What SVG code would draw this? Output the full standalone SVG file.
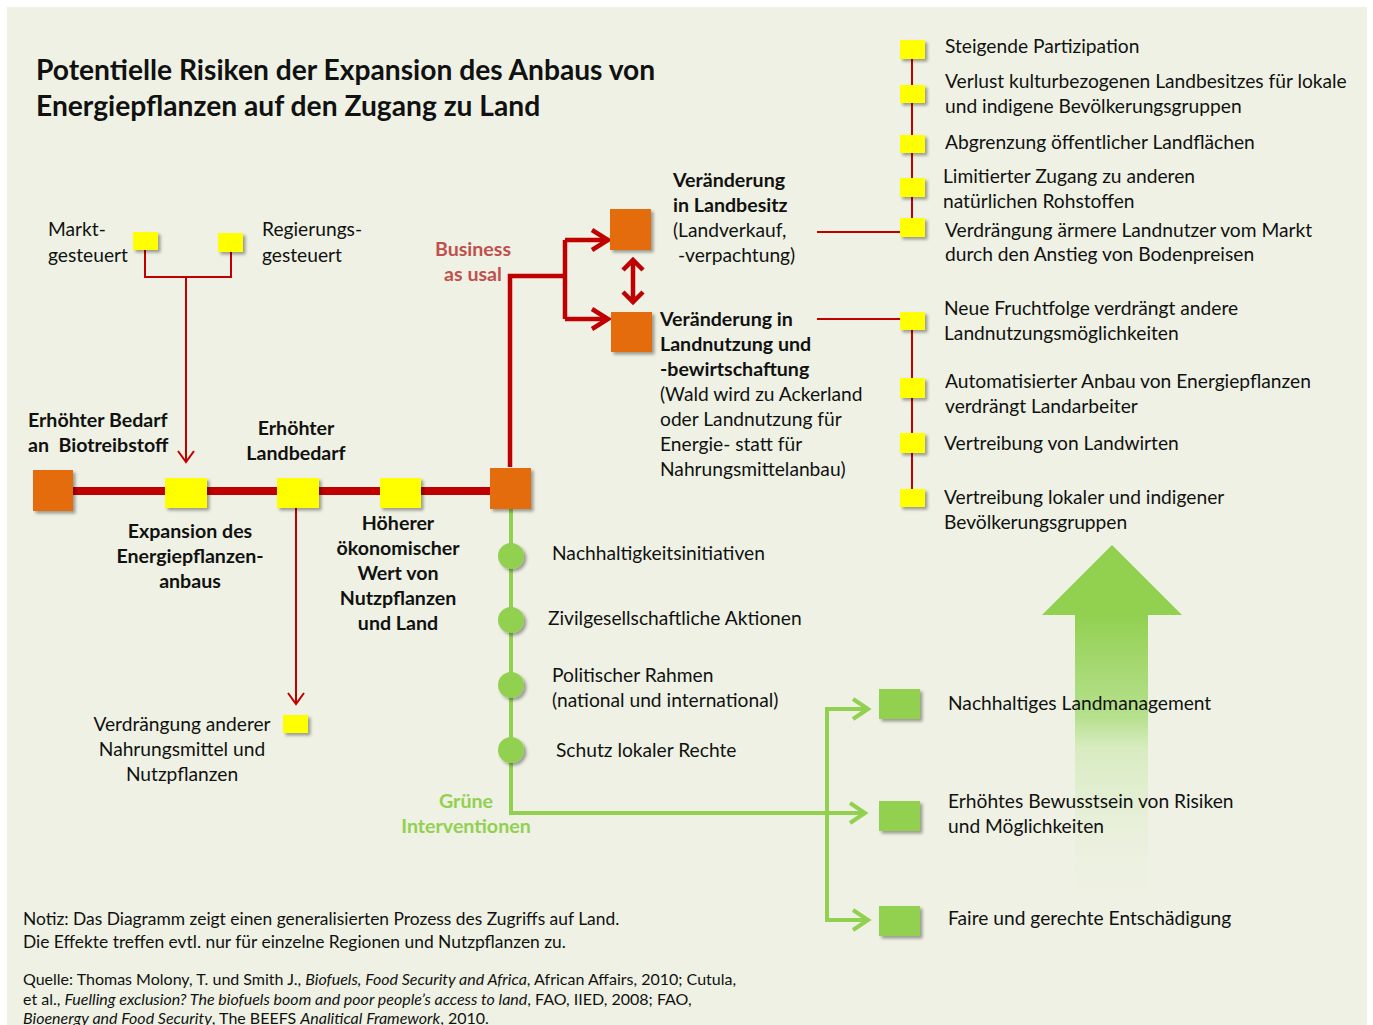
<svg xmlns="http://www.w3.org/2000/svg" width="1373" height="1025" viewBox="0 0 1373 1025">
<defs>
<style>
text{font-family:Lato,"Open Sans","Liberation Sans",sans-serif;fill:#111;}
.t{font-size:28.2px;font-weight:bold;}
.b{font-size:19.2px;}
.bb{font-size:19.6px;font-weight:bold;}
.c{text-anchor:middle;}
.red{fill:#C0504D;font-weight:bold;font-size:19.6px;}
.grn{fill:#92D050;font-weight:bold;font-size:19.6px;}
.n{font-size:17.4px;}
.q{font-size:16px;}
.org{fill:#E46C0A;}
.yel{fill:#FFFF00;}
.gsq{fill:#92D050;}
.sh{filter:url(#shadow);}
.thin{stroke:#C00000;stroke-width:2;fill:none;}
.thick{stroke:#C00000;stroke-width:4.5;fill:none;}
.gl{stroke:#92D050;stroke-width:4;fill:none;}
</style>
<filter id="shadow" x="-30%" y="-30%" width="170%" height="170%">
<feDropShadow dx="2.5" dy="2.5" stdDeviation="1.5" flood-color="#000" flood-opacity="0.35"/>
</filter>
<linearGradient id="shaft" x1="0" y1="0" x2="0" y2="1">
<stop offset="0" stop-color="#92D050" stop-opacity="1"/>
<stop offset="0.35" stop-color="#a8dc78" stop-opacity="0.8"/>
<stop offset="0.45" stop-color="#c8e8a8" stop-opacity="0.6"/>
<stop offset="1" stop-color="#eef1e3" stop-opacity="0"/>
</linearGradient>
</defs>
<rect x="0" y="0" width="1373" height="1025" fill="#ffffff"/>
<rect x="7" y="7" width="1360" height="1018" fill="#EEF1E3"/>

<g id="title">
<text class="t" x="36" y="80">Potentielle Risiken der Expansion des Anbaus von</text>
<text class="t" x="36" y="116">Energiepflanzen auf den Zugang zu Land</text>
</g>

<g id="big-arrow">
<path d="M1112 545 L1182 615 L1042 615 Z" fill="#92D050"/>
<rect x="1075" y="615" width="73" height="295" fill="url(#shaft)"/>
</g>

<g id="connectors">
<line x1="73" y1="491" x2="490" y2="491" stroke="#C00000" stroke-width="8"/>
<path class="thick" d="M510 467 V276 H565 M565 240 V319 M565 240 H608 M565 319 H608"/>
<path class="thick" d="M592 230 L608 240 L592 250 M592 309 L608 319 L592 329"/>
<path class="thick" d="M633 262 V300 M623 270 L633 260 L643 270 M623 292 L633 302 L643 292"/>
<path class="thin" d="M145 250 V277 H231 V252 M186 277 V461"/>
<path class="thin" d="M178 451 L186 462 L194 451"/>
<path class="thin" d="M296 508 V704"/>
<path class="thin" d="M288 693 L296 704 L304 693"/>
<path class="thin" d="M817 232 H905 M912 50 V232"/>
<path class="thin" d="M817 319 H905 M912 320 V498"/>
<path class="gl" d="M511 509 V813 H865"/>
<path class="gl" d="M850 803 L865 813 L850 823"/>
<path class="gl" d="M868 709 H827 V920 H868"/>
<path class="gl" d="M853 699 L868 709 L853 719 M853 910 L868 920 L853 930"/>
</g>

<g id="n-markt">
<rect class="yel sh" x="133" y="232" width="25" height="18"/>
<text class="b" x="48" y="236">Markt-</text>
<text class="b" x="48" y="262">gesteuert</text>
</g>
<g id="n-regierung">
<rect class="yel sh" x="218" y="233" width="25" height="19"/>
<text class="b" x="262" y="236">Regierungs-</text>
<text class="b" x="262" y="262">gesteuert</text>
</g>

<g id="n-bedarf">
<rect class="org sh" x="33" y="470" width="40" height="41"/>
<text class="bb" x="28" y="427">Erhöhter Bedarf</text>
<text class="bb" x="28" y="452" xml:space="preserve">an  Biotreibstoff</text>
</g>
<g id="n-expansion">
<rect class="yel sh" x="165" y="478" width="42" height="30"/>
<text class="bb c" x="190" y="538">Expansion des</text>
<text class="bb c" x="190" y="563">Energiepflanzen-</text>
<text class="bb c" x="190" y="588">anbaus</text>
</g>
<g id="n-landbedarf">
<rect class="yel sh" x="277" y="478" width="42" height="30"/>
<text class="bb c" x="296" y="435">Erhöhter</text>
<text class="bb c" x="296" y="460">Landbedarf</text>
</g>
<g id="n-wert">
<rect class="yel sh" x="380" y="478" width="41" height="30"/>
<text class="bb c" x="398" y="530">Höherer</text>
<text class="bb c" x="398" y="555">ökonomischer</text>
<text class="bb c" x="398" y="580">Wert von</text>
<text class="bb c" x="398" y="605">Nutzpflanzen</text>
<text class="bb c" x="398" y="630">und Land</text>
</g>
<g id="n-hub">
<rect class="org sh" x="490" y="468" width="41" height="41"/>
</g>
<g id="n-business">
<text class="red c" x="473" y="256">Business</text>
<text class="red c" x="473" y="281">as usal</text>
</g>
<g id="n-verdraengung">
<rect class="yel sh" x="283" y="715" width="25" height="18"/>
<text class="b c" x="182" y="731">Verdrängung anderer</text>
<text class="b c" x="182" y="756">Nahrungsmittel und</text>
<text class="b c" x="182" y="781">Nutzpflanzen</text>
</g>

<g id="n-landbesitz">
<rect class="org sh" x="610" y="209" width="41" height="41"/>
<text class="bb" x="673" y="187">Veränderung</text>
<text class="bb" x="673" y="212">in Landbesitz</text>
<text class="b" x="673" y="237">(Landverkauf,</text>
<text class="b" x="673" y="262" xml:space="preserve"> -verpachtung)</text>
</g>
<g id="n-landnutzung">
<rect class="org sh" x="611" y="312" width="41" height="40"/>
<text class="bb" x="660" y="326">Veränderung in</text>
<text class="bb" x="660" y="351">Landnutzung und</text>
<text class="bb" x="660" y="376">-bewirtschaftung</text>
<text class="b" x="660" y="401">(Wald wird zu Ackerland</text>
<text class="b" x="660" y="426">oder Landnutzung für</text>
<text class="b" x="660" y="451">Energie- statt für</text>
<text class="b" x="660" y="476">Nahrungsmittelanbau)</text>
</g>

<g id="n-r1"><rect class="yel sh" x="900" y="40" width="25" height="19"/><text class="b" x="945" y="53">Steigende Partizipation</text></g>
<g id="n-r2"><rect class="yel sh" x="900" y="85" width="25" height="18"/><text class="b" x="945" y="88">Verlust kulturbezogenen Landbesitzes für lokale</text><text class="b" x="945" y="113">und indigene Bevölkerungsgruppen</text></g>
<g id="n-r3"><rect class="yel sh" x="900" y="135" width="25" height="18"/><text class="b" x="945" y="149">Abgrenzung öffentlicher Landflächen</text></g>
<g id="n-r4"><rect class="yel sh" x="900" y="178" width="25" height="19"/><text class="b" x="943" y="183">Limitierter Zugang zu anderen</text><text class="b" x="943" y="208">natürlichen Rohstoffen</text></g>
<g id="n-r5"><rect class="yel sh" x="900" y="218" width="25" height="19"/><text class="b" x="945" y="237">Verdrängung ärmere Landnutzer vom Markt</text><text class="b" x="945" y="261">durch den Anstieg von Bodenpreisen</text></g>

<g id="n-s1"><rect class="yel sh" x="900" y="312" width="25" height="18"/><text class="b" x="944" y="315">Neue Fruchtfolge verdrängt andere</text><text class="b" x="944" y="340">Landnutzungsmöglichkeiten</text></g>
<g id="n-s2"><rect class="yel sh" x="900" y="378" width="25" height="20"/><text class="b" x="945" y="388">Automatisierter Anbau von Energiepflanzen</text><text class="b" x="945" y="413">verdrängt Landarbeiter</text></g>
<g id="n-s3"><rect class="yel sh" x="900" y="433" width="25" height="20"/><text class="b" x="944" y="450">Vertreibung von Landwirten</text></g>
<g id="n-s4"><rect class="yel sh" x="900" y="489" width="25" height="18"/><text class="b" x="944" y="504">Vertreibung lokaler und indigener</text><text class="b" x="944" y="529">Bevölkerungsgruppen</text></g>

<g id="n-gruen">
<text class="grn c" x="466" y="808">Grüne</text>
<text class="grn c" x="466" y="833">Interventionen</text>
</g>
<g id="n-g1"><circle class="gsq sh" cx="511" cy="556" r="13"/><text class="b" x="552" y="560">Nachhaltigkeitsinitiativen</text></g>
<g id="n-g2"><circle class="gsq sh" cx="511" cy="620" r="13"/><text class="b" x="548" y="625">Zivilgesellschaftliche Aktionen</text></g>
<g id="n-g3"><circle class="gsq sh" cx="511" cy="685" r="13"/><text class="b" x="552" y="682">Politischer Rahmen</text><text class="b" x="552" y="707">(national und international)</text></g>
<g id="n-g4"><circle class="gsq sh" cx="511" cy="750" r="13"/><text class="b" x="556" y="757">Schutz lokaler Rechte</text></g>

<g id="n-o1"><rect class="gsq sh" x="879" y="689" width="41" height="30"/><text class="b" x="948" y="710">Nachhaltiges Landmanagement</text></g>
<g id="n-o2"><rect class="gsq sh" x="879" y="801" width="41" height="30"/><text class="b" x="948" y="808">Erhöhtes Bewusstsein von Risiken</text><text class="b" x="948" y="833">und Möglichkeiten</text></g>
<g id="n-o3"><rect class="gsq sh" x="879" y="906" width="41" height="30"/><text class="b" x="948" y="925">Faire und gerechte Entschädigung</text></g>

<g id="notes">
<text class="n" x="23" y="925">Notiz: Das Diagramm zeigt einen generalisierten Prozess des Zugriffs auf Land.</text>
<text class="n" x="23" y="948">Die Effekte treffen evtl. nur für einzelne Regionen und Nutzpflanzen zu.</text>
<text class="q" x="23" y="985">Quelle: Thomas Molony, T. und Smith J., <tspan font-style="italic">Biofuels, Food Security and Africa</tspan>, African Affairs, 2010; Cutula,</text>
<text class="q" x="23" y="1005">et al., <tspan font-style="italic">Fuelling exclusion? The biofuels boom and poor people’s access to land</tspan>, FAO, IIED, 2008; FAO,</text>
<text class="q" x="23" y="1024"><tspan font-style="italic">Bioenergy and Food Security</tspan>, The BEEFS <tspan font-style="italic">Analitical Framework</tspan>, 2010.</text>
</g>
</svg>
